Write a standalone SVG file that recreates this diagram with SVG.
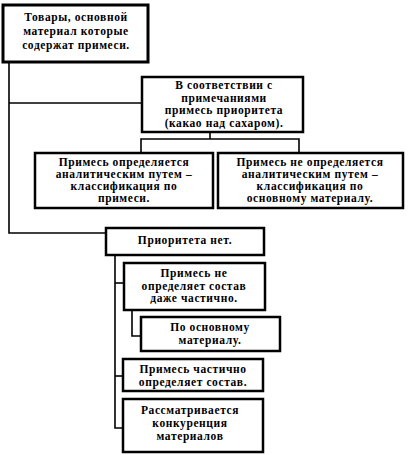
<svg xmlns="http://www.w3.org/2000/svg" width="415" height="455" viewBox="0 0 415 455">
<style>
.box{fill:#fff;stroke:#000;stroke-width:2.5}
.ln{fill:none;stroke:#000;stroke-width:1.6}
text{font-family:"Liberation Serif","Times New Roman",serif;font-weight:bold;font-size:11.5px;text-anchor:middle;fill:#000;letter-spacing:0.6px}
</style>
<rect width="415" height="455" fill="#fff"/>
<g id="connectors">
<polyline class="ln" points="9,62 9,233 106,233"/>
<line class="ln" x1="9" y1="103" x2="142" y2="103"/>
<polyline class="ln" points="210,132 210,139"/>
<polyline class="ln" points="141,153 141,139 299,139 299,153"/>
<polyline class="ln" points="115,255 115,428 123,428"/>
<line class="ln" x1="115" y1="283" x2="124" y2="283"/>
<line class="ln" x1="115" y1="376" x2="123" y2="376"/>
<polyline class="ln" points="132,310 132,336 141,336"/>
</g>
<g id="n1"><rect class="box" x="3" y="5" width="145" height="57" style="stroke-width:3"/>
<text x="76" y="21">Товары, основной</text><text x="76" y="35">материал которые</text><text x="76" y="49">содержат примеси.</text></g>
<g id="n2"><rect class="box" x="142" y="77" width="161" height="55"/>
<text x="224" y="89">В соответствии с</text><text x="224" y="101.5">примечаниями</text><text x="224" y="114">примесь приоритета</text><text x="224" y="126.5">(какао над сахаром).</text></g>
<g id="n3"><rect class="box" x="35" y="153" width="178" height="55"/>
<text x="124" y="166">Примесь определяется</text><text x="124" y="178">аналитическим путем –</text><text x="124" y="190">классификация по</text><text x="124" y="202">примеси.</text></g>
<g id="n4"><rect class="box" x="218" y="153" width="185" height="55"/>
<text x="310" y="166">Примесь не определяется</text><text x="310" y="178">аналитическим путем –</text><text x="310" y="190">классификация по</text><text x="310" y="202">основному материалу.</text></g>
<g id="n5"><rect class="box" x="106" y="228" width="158" height="27"/>
<text x="185" y="244">Приоритета нет.</text></g>
<g id="n6"><rect class="box" x="124" y="263" width="141" height="47"/>
<text x="194" y="277">Примесь не</text><text x="194" y="289.5">определяет состав</text><text x="194" y="302">даже частично.</text></g>
<g id="n7"><rect class="box" x="141" y="317" width="139" height="34"/>
<text x="210" y="331">По основному</text><text x="210" y="344">материалу.</text></g>
<g id="n8"><rect class="box" x="123" y="359" width="140" height="32"/>
<text x="193" y="373">Примесь частично</text><text x="193" y="386">определяет состав.</text></g>
<g id="n9"><rect class="box" x="123" y="399" width="140" height="53"/>
<text x="190" y="414">Рассматривается</text><text x="190" y="427">конкуренция</text><text x="190" y="440">материалов</text></g>
</svg>
